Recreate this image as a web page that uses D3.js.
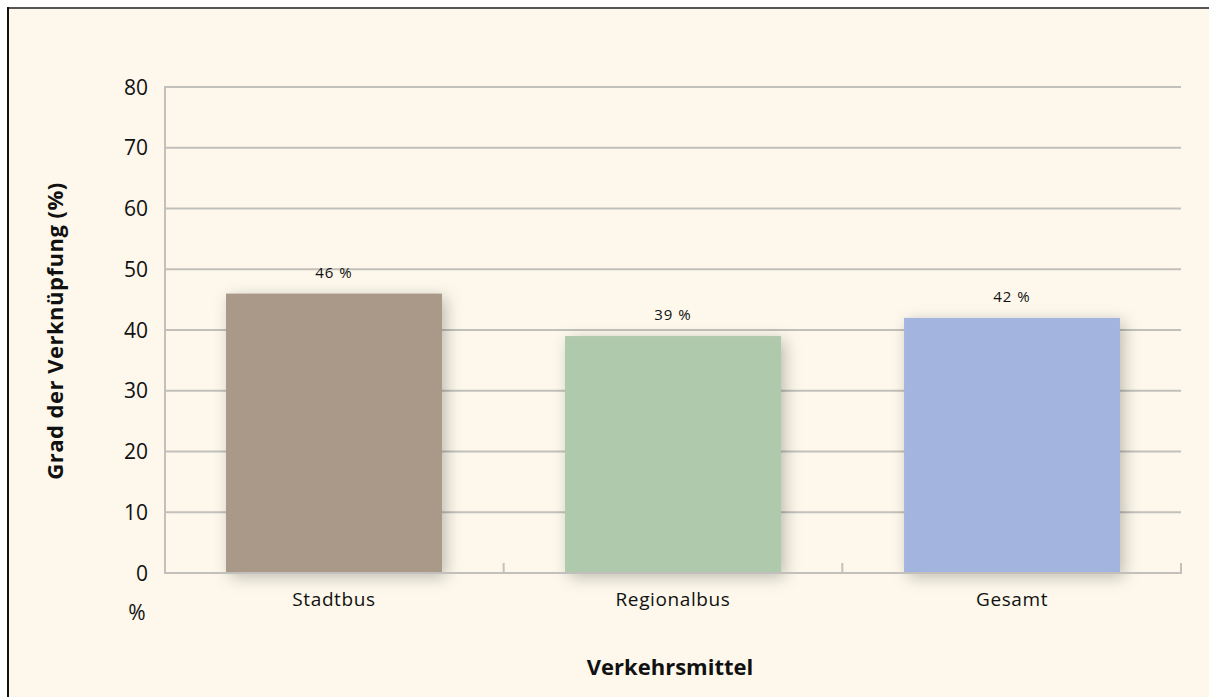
<!DOCTYPE html>
<html>
<head>
<meta charset="utf-8">
<script src="https://cdn.jsdelivr.net/npm/d3@7"></script>
<style>
  body { margin: 0; background: #fff; }
  svg { display: block; font-family: "Open Sans", "Noto Sans", sans-serif; }
</style>
</head>
<body>
<svg id="chart" width="1209" height="697"></svg>
<script>
const categories = ["Stadtbus", "Regionalbus", "Gesamt"];
const values = [46, 39, 42];
const barColors = ["#aa9889", "#aec9ac", "#a3b5df"];
const yTicks = [0, 10, 20, 30, 40, 50, 60, 70, 80];

const svg = d3.select("#chart");

// background panel with top/left rules
svg.append("rect")
    .attr("x", 8).attr("y", 8)
    .attr("width", 1201).attr("height", 689)
    .attr("fill", "#fdf8eb");
svg.append("line")
    .attr("x1", 7).attr("x2", 1209).attr("y1", 8).attr("y2", 8)
    .attr("stroke", "#555").attr("stroke-width", 2);
svg.append("line")
    .attr("x1", 8).attr("x2", 8).attr("y1", 7).attr("y2", 697)
    .attr("stroke", "#111").attr("stroke-width", 2);

const plot = {left: 165, right: 1181, top: 87, bottom: 573};

const x = d3.scaleBand()
    .domain(categories)
    .range([plot.left, plot.right])
    .paddingInner(0.363)
    .paddingOuter(0.18);

const xb = d3.scaleBand()
    .domain(categories)
    .range([plot.left, plot.right]);

const y = d3.scaleLinear()
    .domain([0, 80])
    .range([plot.bottom, plot.top]);

// shadow filter
const defs = svg.append("defs");
const f = defs.append("filter").attr("id", "shadow")
    .attr("x", "-20%").attr("y", "-20%").attr("width", "140%").attr("height", "140%");
f.append("feDropShadow")
    .attr("dx", 4).attr("dy", 4).attr("stdDeviation", 8)
    .attr("flood-color", "#000").attr("flood-opacity", 0.25);

// gridlines
svg.append("g").selectAll("line")
    .data(yTicks.filter(d => d > 0))
    .enter().append("line")
        .attr("x1", plot.left).attr("x2", plot.right)
        .attr("y1", d => y(d)).attr("y2", d => y(d))
        .attr("stroke", "#c2c0bb").attr("stroke-width", 2);

// y axis line
svg.append("line")
    .attr("x1", plot.left).attr("x2", plot.left)
    .attr("y1", plot.top - 1).attr("y2", plot.bottom + 1)
    .attr("stroke", "#c2c0bb").attr("stroke-width", 2);

// bars
svg.append("g").selectAll("rect")
    .data(categories)
    .enter().append("rect")
        .attr("x", d => x(d))
        .attr("y", (d, i) => y(values[i]))
        .attr("width", x.bandwidth())
        .attr("height", (d, i) => y(0) - y(values[i]))
        .attr("fill", (d, i) => barColors[i])
        .attr("filter", "url(#shadow)");

// x axis line and ticks
svg.append("line")
    .attr("x1", plot.left - 1).attr("x2", plot.right + 1)
    .attr("y1", plot.bottom).attr("y2", plot.bottom)
    .attr("stroke", "#c2c0bb").attr("stroke-width", 2);

svg.append("g").selectAll("line")
    .data(categories)
    .enter().append("line")
        .attr("x1", d => xb(d) + xb.bandwidth())
        .attr("x2", d => xb(d) + xb.bandwidth())
        .attr("y1", plot.bottom - 10).attr("y2", plot.bottom)
        .attr("stroke", "#c2c0bb").attr("stroke-width", 2);

// value labels
svg.append("g").selectAll("text")
    .data(categories)
    .enter().append("text")
        .attr("x", d => x(d) + x.bandwidth() / 2)
        .attr("y", (d, i) => y(values[i]) - 16)
        .attr("text-anchor", "middle")
        .attr("font-size", 15)
        .attr("letter-spacing", 1)
        .attr("fill", "#111")
        .text((d, i) => values[i] + " %");

// y tick labels
svg.append("g").selectAll("text")
    .data(yTicks)
    .enter().append("text")
        .attr("x", 148)
        .attr("y", d => y(d))
        .attr("dy", "0.36em")
        .attr("text-anchor", "end")
        .attr("font-size", 21)
        .attr("fill", "#111")
        .text(d => d);

svg.append("text")
    .attr("x", 137).attr("y", 620)
    .attr("text-anchor", "middle")
    .attr("font-size", 21)
    .attr("fill", "#111")
    .text("%");

// category labels
svg.append("g").selectAll("text")
    .data(categories)
    .enter().append("text")
        .attr("x", d => x(d) + x.bandwidth() / 2)
        .attr("y", 606)
        .attr("text-anchor", "middle")
        .attr("font-size", 19)
        .attr("letter-spacing", 0.6)
        .attr("fill", "#111")
        .text(d => d);

// axis titles
svg.append("text")
    .attr("x", 670).attr("y", 675)
    .attr("text-anchor", "middle")
    .attr("font-size", 22)
    .attr("font-weight", "bold")
    .attr("fill", "#111")
    .text("Verkehrsmittel");

svg.append("text")
    .attr("transform", "translate(63,331) rotate(-90)")
    .attr("text-anchor", "middle")
    .attr("font-size", 22)
    .attr("letter-spacing", 0.5)
    .attr("font-weight", "bold")
    .attr("fill", "#111")
    .text("Grad der Verknüpfung (%)");
</script>
</body>
</html>
